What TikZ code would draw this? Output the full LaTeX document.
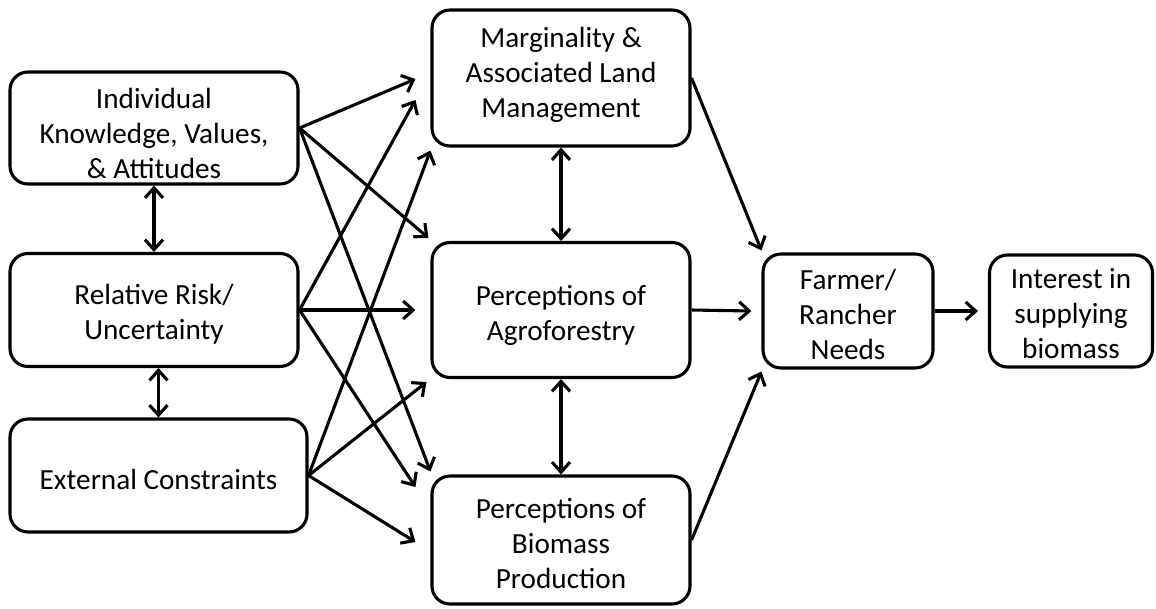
\documentclass[tikz,border=0pt]{standalone}
\usepackage{fontspec}
\setmainfont{Carlito}
\usetikzlibrary{arrows.meta,calc}
\begin{document}
\begin{tikzpicture}[x=1pt,y=-1pt,
  box/.style={draw=black,line width=3.1pt,rounded corners=18pt,inner sep=0pt},
  txt/.style={align=center,inner sep=0pt,font=\fontsize{29.2}{35}\selectfont},
  arr/.style={line width=3.1pt,-{Straight Barb[length=10pt,width=18pt]}},
  darr/.style={line width=3.1pt,{Straight Barb[length=10pt,width=18pt]}-{Straight Barb[length=10pt,width=18pt]}}]
\useasboundingbox (0,0) rectangle (1156,608);
\node[box,minimum width=288pt,minimum height=112pt,label={[txt,yshift=-5pt]center:Individual\\Knowledge, Values,\\\& Attitudes}] (ind) at (154,128) {};
\node[box,minimum width=288pt,minimum height=113pt,label={[txt,yshift=-4pt]center:Relative Risk/\\Uncertainty}] (rel) at (154,310) {};
\node[box,minimum width=297pt,minimum height=113pt,label={[txt,yshift=-4pt]center:External Constraints}] (ext) at (158.5,475.5) {};
\node[box,minimum width=258pt,minimum height=136pt,label={[txt,yshift=3pt]center:Marginality \&\\Associated Land\\Management}] (marg) at (561,78) {};
\node[box,minimum width=258pt,minimum height=135pt,label={[txt,yshift=-5pt]center:Perceptions of\\Agroforestry}] (agro) at (561,310) {};
\node[box,minimum width=258pt,minimum height=128pt,label={[txt,yshift=-4pt]center:Perceptions of\\Biomass\\Production}] (bio) at (561,540) {};
\node[box,minimum width=170pt,minimum height=114pt,label={[txt,yshift=-3pt]center:Farmer/\\Rancher\\Needs}] (farm) at (848,311) {};
\node[box,minimum width=163pt,minimum height=112pt,label={[txt,yshift=-3pt]center:Interest in\\supplying\\biomass}] (int) at (1071,311) {};

\draw[darr] (ind.south) -- (rel.north);
\draw[darr] (ext.north |- rel.south) -- (ext.north);
\draw[darr] (marg.south) -- (agro.north);
\draw[darr] (agro.south) -- (bio.north);

\draw[arr] (ind.east) -- ($(marg.west)+(-15,1)$);
\draw[arr] (ind.east) -- ($(agro.north west)+(-2,-3)$);
\draw[arr] (ind.east) -- ($(bio.north west)+(0,-3)$);
\draw[arr] (rel.east) -- ($(marg.west)+(-15,22)$);
\draw[arr] (rel.east) -- ($(agro.west)+(-15,0)$);
\draw[arr] (rel.east) -- ($(bio.west)+(-15,-53)$);
\draw[arr] (ext.east) -- ($(marg.south west)+(0,3)$);
\draw[arr] (ext.east) -- ($(agro.south west)+(-4,3)$);
\draw[arr] (ext.east) -- ($(bio.west)+(-15,2)$);

\draw[arr] (marg.east) -- ($(farm.north west)+(0,-2)$);
\draw[arr] (agro.east) -- ($(farm.west)+(-10,0)$);
\draw[arr] (bio.east) -- ($(farm.south west)+(0,2)$);
\draw[arr] (farm.east) -- ($(int.west)+(-10,0)$);
\end{tikzpicture}
\end{document}
